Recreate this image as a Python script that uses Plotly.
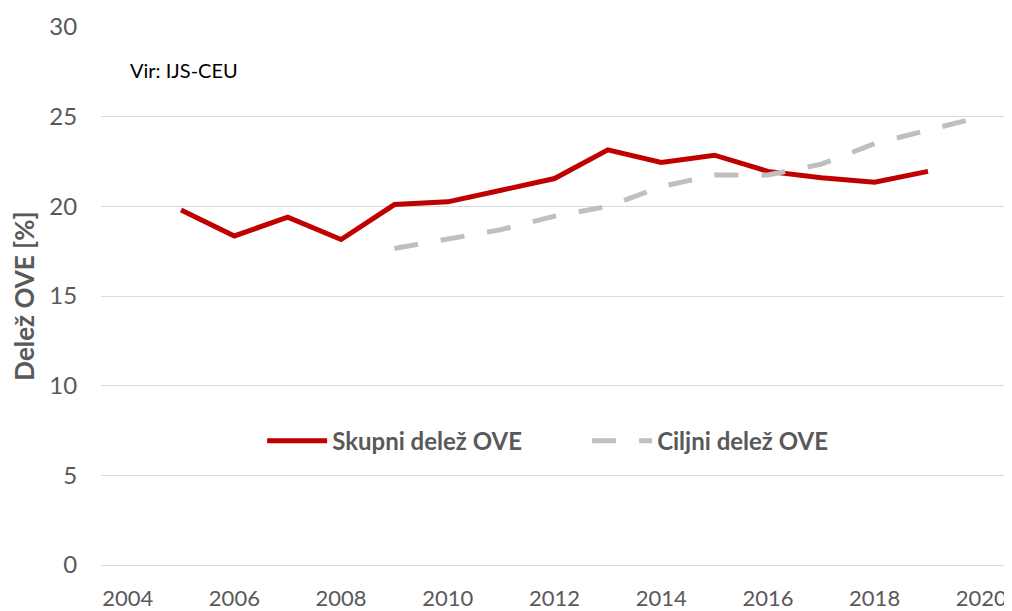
import plotly.graph_objects as go

years_total = [2005, 2006, 2007, 2008, 2009, 2010, 2011, 2012, 2013, 2014, 2015, 2016, 2017, 2018, 2019]
share_total = [19.8, 18.35, 19.4, 18.15, 20.1, 20.25, 20.9, 21.55, 23.15, 22.45, 22.85, 21.95, 21.6, 21.35, 21.95]

years_target = [2009, 2010, 2011, 2012, 2013, 2014, 2015, 2016, 2017, 2018, 2019, 2020]
share_target = [17.65, 18.15, 18.7, 19.45, 20.0, 21.1, 21.75, 21.75, 22.35, 23.5, 24.25, 25.0]

name_total = "Skupni delež OVE"
name_target = "Ciljni delež OVE"
y_title = "Delež OVE [%]"
source_text = "Vir: IJS-CEU"
x_ticks = [2004, 2006, 2008, 2010, 2012, 2014, 2016, 2018, 2020]
y_ticks = [0, 5, 10, 15, 20, 25, 30]

FONT = "Lato, Open Sans, sans-serif"
GRAY_TXT = "#595959"
GRID = "#d9d9d9"

fig = go.Figure()
fig.add_trace(go.Scatter(
    x=years_total, y=share_total, name=name_total, mode="lines",
    line=dict(color="#c00000", width=5),
))
fig.add_trace(go.Scatter(
    x=years_target, y=share_target, name=name_target, mode="lines",
    line=dict(color="#bfbfbf", width=5, dash="24px,23px"),
))

fig.add_annotation(
    text=source_text, xref="paper", yref="paper", x=0.03, y=0.92,
    xanchor="left", yanchor="middle", showarrow=False,
    font=dict(family=FONT, size=20, color="#000000"),
)

fig.update_layout(
    width=1004, height=603,
    margin=dict(l=93, r=4, t=19, b=46),
    plot_bgcolor="white", paper_bgcolor="white",
    font=dict(family=FONT, color=GRAY_TXT),
    showlegend=True,
    legend=dict(
        orientation="h", x=0.536, y=0.23, xanchor="center", yanchor="middle",
        font=dict(family=FONT, size=24, color=GRAY_TXT, weight="bold"),
        itemwidth=60, entrywidth=250, bgcolor="rgba(0,0,0,0)",
    ),
    xaxis=dict(
        range=[2003.5, 2020.5], tickvals=x_ticks, showgrid=False, zeroline=False,
        showline=False, tickfont=dict(size=22, color=GRAY_TXT),
        ticks="outside", ticklen=14, tickcolor="rgba(0,0,0,0)", automargin=False,
    ),
    yaxis=dict(
        range=[0, 30], tickvals=y_ticks, showgrid=True, gridcolor=GRID,
        gridwidth=1.3, zeroline=True, zerolinecolor=GRID, zerolinewidth=1.3,
        showline=False,
        tickfont=dict(size=24, color=GRAY_TXT),
        ticks="outside", ticklen=18, tickcolor="rgba(0,0,0,0)", automargin=False,
        title=dict(text=y_title, font=dict(size=26, color=GRAY_TXT, weight="bold"), standoff=12),
    ),
)

fig.write_html("out.html")
